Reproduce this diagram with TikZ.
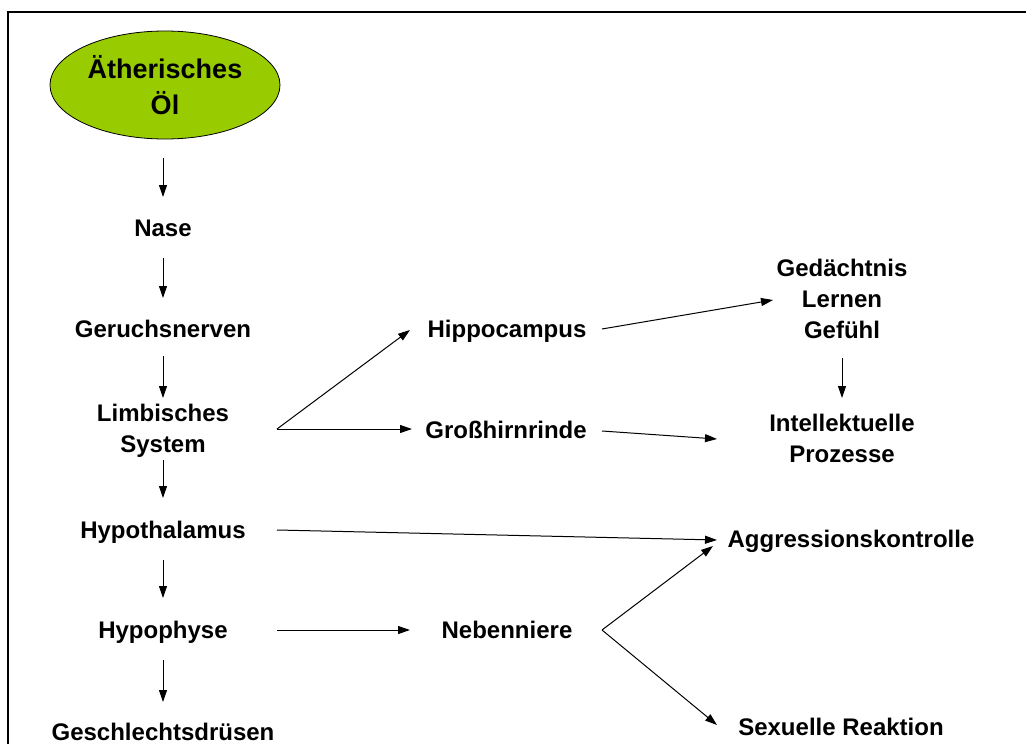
\documentclass[tikz,border=0pt]{standalone}
\usepackage{fontspec}
\setmainfont{Liberation Sans}
\usetikzlibrary{arrows.meta,shapes.geometric}
\definecolor{oelgreen}{RGB}{153,204,0}
\begin{document}
\begin{tikzpicture}[x=1pt,y=-1pt,
  lbl/.style={font=\fontsize{24}{31}\selectfont\bfseries, inner sep=0pt, text height=17.2pt, text depth=0pt},
  mlbl/.style={font=\fontsize{24}{31}\selectfont\bfseries, inner sep=0pt, align=center},
  arr/.style={-{Triangle[length=12pt,width=8pt]}, line width=1pt},
  ln/.style={line width=1pt}]
\useasboundingbox (0,0) rectangle (1026,744);
\fill[white] (0,0) rectangle (1026,744);
\draw[line width=2.4pt] (8,790) -- (8,12) -- (1070,12);

\node[ellipse, draw, line width=0.8pt, fill=oelgreen, minimum width=230pt, minimum height=108pt,
      inner sep=0pt, align=center, font=\fontsize{27}{36}\selectfont\bfseries] (oel) at (165,85) {Ätherisches\\Öl};
\node[lbl] (nase) at (163,228) {Nase};
\node[lbl] (geruch) at (163,329) {Geruchsnerven};
\node[mlbl] (limb) at (163,431) {Limbisches\\System};
\node[lbl] (hypoth) at (163,530) {Hypothalamus};
\node[lbl] (hypoph) at (163,630) {Hypophyse};
\node[lbl] (gesch) at (163,732) {Geschlechtsdrüsen};
\node[lbl] (hippo) at (507,329) {Hippocampus};
\node[lbl] (gross) at (506,430) {Großhirnrinde};
\node[mlbl] (gedacht) at (842,299) {Gedächtnis\\Lernen\\Gefühl};
\node[mlbl] (intell) at (842,438) {Intellektuelle\\Prozesse};
\node[lbl] (aggr) at (851,539) {Aggressionskontrolle};
\node[lbl] (neben) at (507,630) {Nebenniere};
\node[lbl] (sex) at (841,727) {Sexuelle Reaktion};

% vertical chain
\draw[arr] ([xshift=-2pt,yshift=-19pt]oel.south) -- ([yshift=31pt]nase.center);
\draw[arr] ([yshift=-30pt]nase.center) -- ([yshift=31pt]geruch.center);
\draw[arr] ([yshift=-27pt]geruch.center) -- ([yshift=33pt]limb.center);
\draw[arr] ([yshift=-29pt]limb.center) -- ([yshift=32pt]hypoth.center);
\draw[arr] ([yshift=-30pt]hypoth.center) -- ([yshift=32pt]hypoph.center);
\draw[arr] ([yshift=-30pt]hypoph.center) -- ([yshift=30pt]gesch.center);
\draw[arr] ([yshift=-59pt]gedacht.center) -- ([yshift=40pt]intell.center);

% limbic fork
\coordinate (lfork) at ([xshift=114pt,yshift=2pt]limb.center);
\draw[arr] (lfork) -- ([xshift=-97pt,yshift=-1pt]hippo.center);
\draw[arr] (lfork) -- ([xshift=-94pt,yshift=1pt]gross.center);

% right side
\draw[arr] ([xshift=95pt]hippo.center) -- ([xshift=-69pt,yshift=-1pt]gedacht.center);
\draw[arr] ([xshift=96pt,yshift=-1pt]gross.center) -- ([xshift=-125pt,yshift=-1pt]intell.center);
\draw[arr] ([xshift=114pt]hypoth.center) -- ([xshift=-134pt,yshift=-1pt]aggr.center);
\draw[arr] ([xshift=114pt]hypoph.center) -- ([xshift=-97pt]neben.center);

% adrenal fork
\coordinate (nfork) at ([xshift=95pt]neben.center);
\draw[arr] (nfork) -- ([xshift=-138pt,yshift=-7pt]aggr.center);
\draw[arr] (nfork) -- ([xshift=-124pt,yshift=2pt]sex.center);
\end{tikzpicture}
\end{document}
